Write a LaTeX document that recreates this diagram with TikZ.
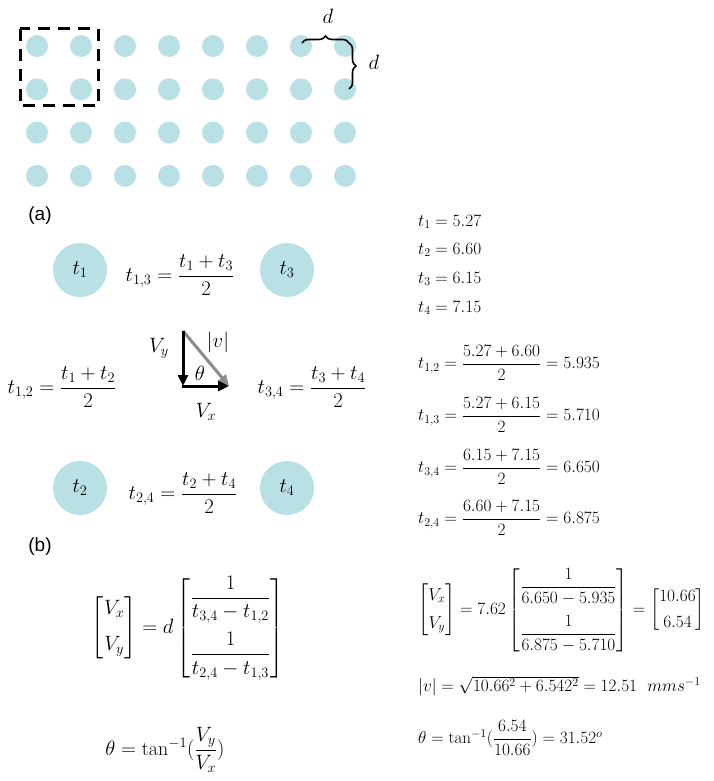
\documentclass[tikz,border=0pt]{standalone}
\usepackage{fontspec}
\usepackage{amsmath}
\usetikzlibrary{decorations.pathreplacing,arrows.meta}
\newfontfamily\panelfont{Liberation Sans}
\definecolor{dotcol}{RGB}{185,224,228}
\definecolor{vgray}{RGB}{140,140,140}
\begin{document}
\begin{tikzpicture}[x=1pt,y=-1pt,
  dot/.style={circle,fill=dotcol,minimum size=22pt,inner sep=0pt},
  bigdot/.style={circle,fill=dotcol,minimum size=54pt,inner sep=0pt,font=\fontsize{22}{26}\selectfont},
  eq/.style={inner sep=0pt,font=\fontsize{20}{24}\selectfont},
  req/.style={inner sep=0pt,anchor=west,font=\fontsize{17}{20}\selectfont},
  panel/.style={inner sep=0pt,font=\panelfont\fontsize{19}{22}\selectfont},
  vec/.style={line width=3pt,-{Triangle[length=11pt,width=10pt]}},
  bracebox/.style={decorate,decoration={brace,amplitude=7pt},line width=1.6pt},
]
\useasboundingbox (0,0) rectangle (713,781);
% grid of dots
\foreach \i in {0,...,7}
  \foreach \j in {0,...,3}
    \node[dot] (g-\i-\j) at (37+44*\i, 46+43.3*\j) {};
\draw[line width=3pt, dash pattern=on 12pt off 8pt] (20,29) rectangle (98,106);
\coordinate (bh1) at (302,43);
\coordinate (bh2) at (349,43);
\coordinate (bv2) at (349,89);
\draw[bracebox] (bh1) -- (bh2);
\draw[bracebox] (bh2) -- (bv2);
\node[eq] (dh) at (328,16) {$d$};
\node[eq] (dv) at (374,62) {$d$};
% panel (a)
\node[panel] (pa) at (40,216) {(a)};
\node[bigdot] (t1) at (80,270) {$t_1$};
\node[bigdot] (t3) at (287,270) {$t_3$};
\node[bigdot] (t2) at (80,488) {$t_2$};
\node[bigdot] (t4) at (287,488) {$t_4$};
\node[eq] (f13) at (180,275) {$t_{1,3}=\dfrac{t_1+t_3}{2}$};
\node[eq] (f24) at (183,493) {$t_{2,4}=\dfrac{t_2+t_4}{2}$};
\node[eq] (f12) at (62,387) {$t_{1,2}=\dfrac{t_1+t_2}{2}$};
\node[eq] (f34) at (312,387) {$t_{3,4}=\dfrac{t_3+t_4}{2}$};
% velocity triangle
\coordinate (vtop) at (183,331);
\coordinate (vcorner) at (183,386);
\coordinate (vend) at (229,386);
\draw[vec,vgray] (vtop) -- (vend);
\draw[vec] (vtop) -- (vcorner);
\draw[line width=3pt] ([xshift=-1.5pt]vcorner) -- (vcorner);
\draw[vec] ([xshift=-1.5pt]vcorner) -- (vend);
\node[eq] (lvy) at (159,348) {$V_y$};
\node[eq] (lv) at (218,342) {$|v|$};
\node[eq] (lth) at (200,373) {$\theta$};
\node[eq] (lvx) at (206,412) {$V_x$};
% right column
\node[req] (r1) at (418,222) {$t_1=5.27$};
\node[req] (r2) at (418,250) {$t_2=6.60$};
\node[req] (r3) at (418,279) {$t_3=6.15$};
\node[req] (r4) at (418,308) {$t_4=7.15$};
\node[req] (r12) at (418,363) {$t_{1,2}=\dfrac{5.27+6.60}{2}=5.935$};
\node[req] (r13) at (418,415) {$t_{1,3}=\dfrac{5.27+6.15}{2}=5.710$};
\node[req] (r34) at (418,467) {$t_{3,4}=\dfrac{6.15+7.15}{2}=6.650$};
\node[req] (r24) at (418,518) {$t_{2,4}=\dfrac{6.60+7.15}{2}=6.875$};
% panel (b)
\node[panel] (pb) at (40,547) {(b)};
\node[eq] (mat) at (188,628) {$\begin{bmatrix}V_x\\[12pt]V_y\end{bmatrix}=d\begin{bmatrix}\dfrac{1}{t_{3,4}-t_{1,2}}\\[22pt]\dfrac{1}{t_{2,4}-t_{1,3}}\end{bmatrix}$};
\node[eq] (thl) at (165,750) {$\theta=\tan^{-1}(\dfrac{V_y}{V_x})$};
\node[req] (rmat) at (418,610) {$\begin{bmatrix}V_x\\[8pt]V_y\end{bmatrix}=7.62\begin{bmatrix}\dfrac{1}{6.650-5.935}\\[18pt]\dfrac{1}{6.875-5.710}\end{bmatrix}=\begin{bmatrix}10.66\\[6pt]6.54\end{bmatrix}$};
\node[req] (rv) at (418,686) {$|v|=\sqrt{10.66^2+6.542^2}=12.51\ \ mms^{-1}$};
\node[req] (rth) at (418,738) {$\theta=\tan^{-1}(\dfrac{6.54}{10.66})=31.52^{o}$};
\end{tikzpicture}
\end{document}
